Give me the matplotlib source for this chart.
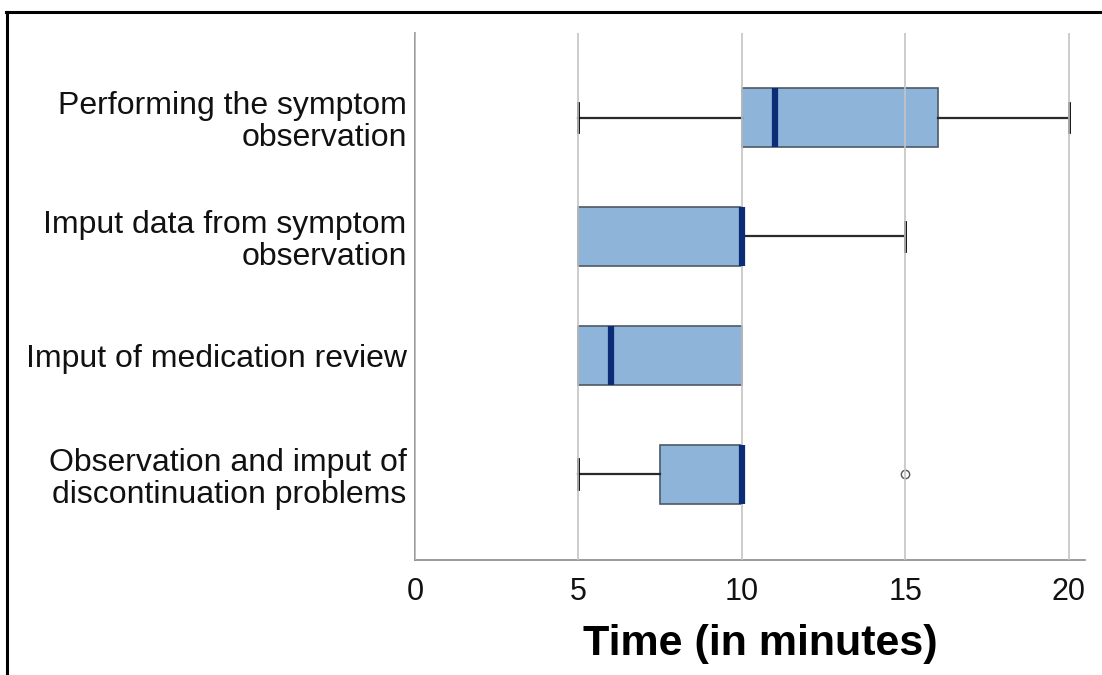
import matplotlib
matplotlib.use("Agg")
import matplotlib.pyplot as plt
from matplotlib.lines import Line2D

# task labels, top to bottom
tasks = [
    "Performing the symptom\nobservation",
    "Imput data from symptom\nobservation",
    "Imput of medication review",
    "Observation and imput of\ndiscontinuation problems",
]
whisker_lo = [5, 5, 5, 5]
q1 = [10, 5, 5, 7.5]
median = [11, 10, 6, 10]
q3 = [16, 10, 10, 10]
whisker_hi = [20, 15, 10, 10]
outliers = [[], [], [], [15]]

x_ticks = [0, 5, 10, 15, 20]


def main():
    '''Main'''
    plt.rcParams['font.family'] = ['Liberation Sans', 'DejaVu Sans']

    fig = plt.figure(figsize=(11.02, 6.75), dpi=100)
    ax = fig.add_axes([0.3766, 0.1704, 0.608, 0.7806])

    stats = []
    for i in range(len(tasks)):
        stats.append({
            'whislo': whisker_lo[i], 'q1': q1[i], 'med': median[i],
            'q3': q3[i], 'whishi': whisker_hi[i], 'fliers': outliers[i],
        })
    positions = list(range(len(tasks)))[::-1]

    parts = ax.bxp(stats, positions=positions, vert=False, widths=0.5,
                   capwidths=0.25, patch_artist=True,
                   boxprops=dict(facecolor='#8fb4d9', edgecolor='#4d5966',
                                 lw=1.2),
                   medianprops=dict(color='#0b2d78', lw=4.5,
                                    solid_capstyle='butt', zorder=4),
                   whiskerprops=dict(color='#2a2a2a', lw=1.6),
                   capprops=dict(color='#000000', lw=2.0),
                   flierprops=dict(marker='o', markersize=6,
                                   markerfacecolor='white',
                                   markeredgecolor='#555555',
                                   markeredgewidth=1.0))

    # no cap when the whisker has zero length
    for i in range(len(tasks)):
        if whisker_lo[i] == q1[i]:
            parts['caps'][2 * i].set_visible(False)
        if whisker_hi[i] == q3[i]:
            parts['caps'][2 * i + 1].set_visible(False)

    ax.set_xlim(0, 20.5)
    ax.set_ylim(-0.72, 3.71)
    ax.set_xticks(x_ticks)
    ax.set_xticklabels([str(t) for t in x_ticks])
    ax.set_yticks(positions)
    ax.set_yticklabels(tasks, linespacing=1.08, fontsize=23)
    ax.tick_params(axis='both', length=0, colors='#111111')
    ax.tick_params(axis='x', pad=12, labelsize=22)
    ax.tick_params(axis='y', pad=6)

    ax.xaxis.grid(True, color='#c4c4c4', lw=1.2)
    ax.set_axisbelow(False)
    for side in ['top', 'right']:
        ax.spines[side].set_visible(False)
    for side in ['left', 'bottom']:
        ax.spines[side].set_color('#8a8a8a')
        ax.spines[side].set_linewidth(1.2)

    ax.set_xlabel("Time (in minutes)", fontsize=31, fontweight='bold')
    ax.xaxis.set_label_coords(0.5 + 10 / 670, -0.122)

    # frame lines on the left and top of the picture
    fig.add_artist(Line2D([7 / 1102, 7 / 1102], [0, 1 - 12 / 675],
                          color='black', lw=2.2, transform=fig.transFigure))
    fig.add_artist(Line2D([6 / 1102, 1], [1 - 12 / 675, 1 - 12 / 675],
                          color='black', lw=2.2, transform=fig.transFigure))

    fig.savefig("out.png", dpi=100)


if __name__ == "__main__":
    main()
